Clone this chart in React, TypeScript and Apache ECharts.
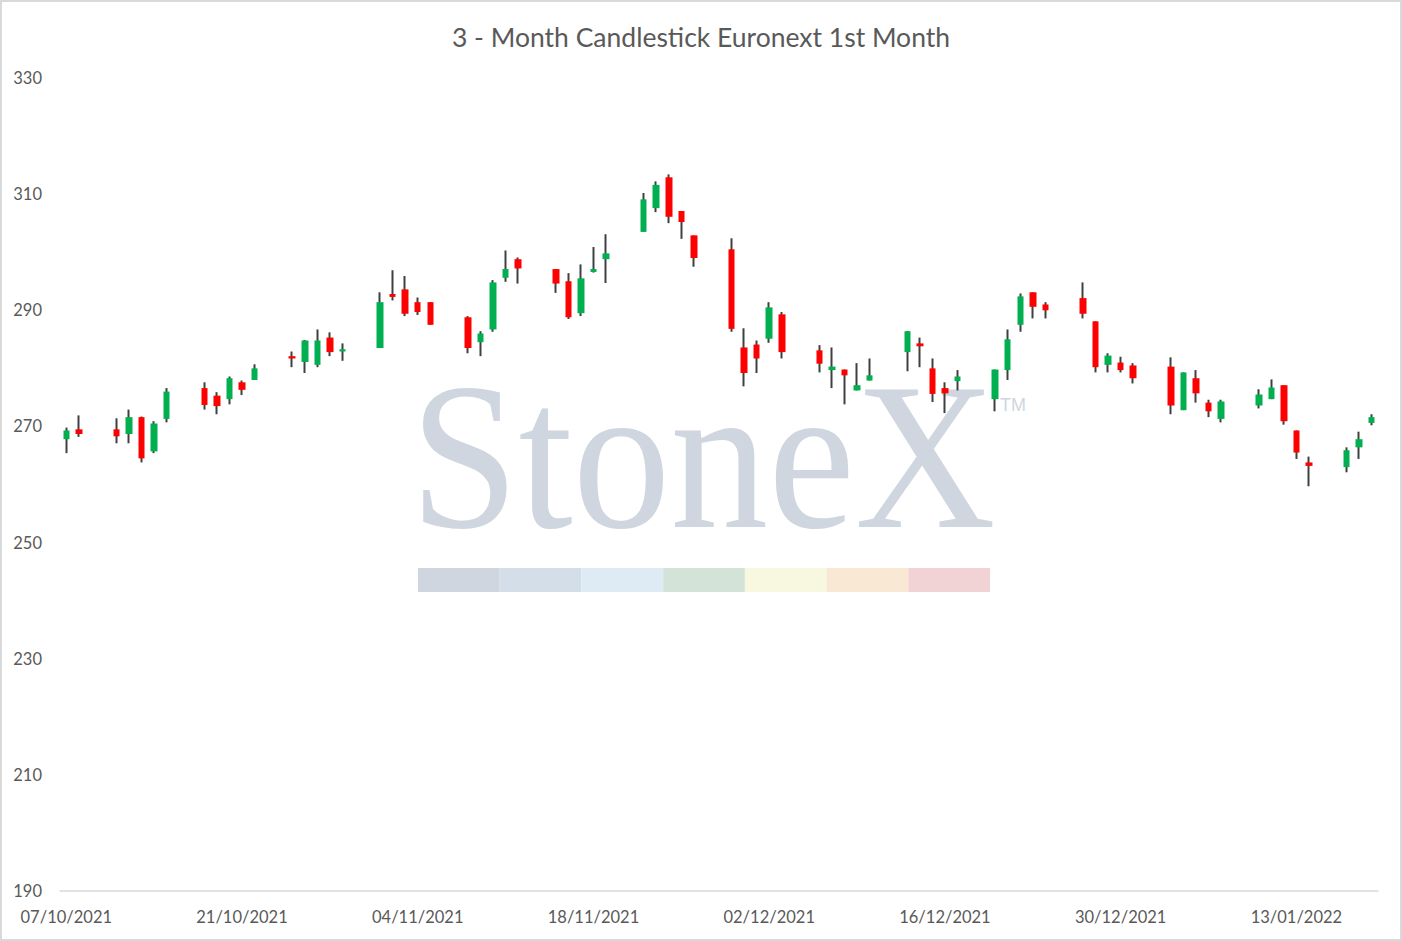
import React, { useEffect, useRef } from "react";
import * as echarts from "echarts";

// ---- data ----
const tradeDates = [
  "07/10/2021", "08/10/2021",
  "11/10/2021", "12/10/2021", "13/10/2021", "14/10/2021", "15/10/2021",
  "18/10/2021", "19/10/2021", "20/10/2021", "21/10/2021", "22/10/2021",
  "25/10/2021", "26/10/2021", "27/10/2021", "28/10/2021", "29/10/2021",
  "01/11/2021", "02/11/2021", "03/11/2021", "04/11/2021", "05/11/2021",
  "08/11/2021", "09/11/2021", "10/11/2021", "11/11/2021", "12/11/2021",
  "15/11/2021", "16/11/2021", "17/11/2021", "18/11/2021", "19/11/2021",
  "22/11/2021", "23/11/2021", "24/11/2021", "25/11/2021", "26/11/2021",
  "29/11/2021", "30/11/2021", "01/12/2021", "02/12/2021", "03/12/2021",
  "06/12/2021", "07/12/2021", "08/12/2021", "09/12/2021", "10/12/2021",
  "13/12/2021", "14/12/2021", "15/12/2021", "16/12/2021", "17/12/2021",
  "20/12/2021", "21/12/2021", "22/12/2021", "23/12/2021", "24/12/2021",
  "27/12/2021", "28/12/2021", "29/12/2021", "30/12/2021", "31/12/2021",
  "03/01/2022", "04/01/2022", "05/01/2022", "06/01/2022", "07/01/2022",
  "10/01/2022", "11/01/2022", "12/01/2022", "13/01/2022", "14/01/2022",
  "17/01/2022", "18/01/2022", "19/01/2022",
];

const opens = [
  267.8, 269.5,
  269.5, 268.7, 271.6, 265.7, 271.3,
  276.6, 275.3, 274.7, 277.6, 278.0,
  282.1, 281.1, 280.6, 285.3, 282.9,
  283.5, 292.8, 293.6, 291.4, 291.4,
  288.8, 284.5, 286.7, 295.6, 298.8,
  297.1, 295.0, 289.5, 296.6, 298.8,
  303.5, 307.6, 312.9, 307.1, 302.9,
  300.5, 283.6, 284.1, 285.1, 289.3,
  283.1, 279.7, 279.8, 276.2, 277.9,
  282.8, 284.3, 280.0, 276.6, 277.8,
  274.7, 279.7, 287.5, 293.1, 291.0,
  292.1, 288.1, 280.6, 281.0, 280.5,
  280.3, 272.8, 278.3, 274.1, 271.3,
  273.6, 274.7, 277.1, 269.3, 263.8,
  263.0, 266.4, 270.6,
];

const closes = [
  269.3, 268.7,
  268.3, 271.6, 264.5, 270.5, 276.0,
  273.7, 273.5, 278.3, 276.3, 280.0,
  281.7, 284.8, 284.8, 282.8, 283.3,
  291.4, 292.3, 289.4, 289.7, 287.5,
  283.5, 286.0, 294.8, 297.1, 297.2,
  294.6, 288.8, 295.5, 297.1, 299.8,
  309.1, 311.6, 306.1, 305.2, 299.0,
  286.8, 279.2, 281.7, 290.5, 282.8,
  280.8, 280.3, 278.8, 277.1, 278.8,
  286.4, 283.8, 275.6, 275.7, 278.6,
  279.8, 285.0, 292.4, 290.6, 290.0,
  289.4, 280.2, 282.2, 279.7, 278.3,
  273.6, 279.3, 275.7, 272.6, 274.3,
  275.5, 276.7, 270.9, 265.5, 263.2,
  265.9, 267.8, 271.6,
];

const lows = [
  265.4, 268.2,
  267.1, 267.1, 263.8, 265.4, 270.7,
  272.9, 272.1, 273.8, 275.4, 278.0,
  280.2, 279.2, 280.2, 282.1, 281.3,
  283.5, 291.7, 289.0, 289.2, 287.5,
  282.6, 282.1, 286.3, 294.9, 294.6,
  293.0, 288.5, 289.0, 296.5, 294.7,
  303.5, 306.9, 305.0, 302.3, 297.5,
  286.3, 276.9, 279.2, 284.4, 281.7,
  279.3, 276.6, 273.8, 276.2, 277.9,
  279.5, 280.2, 274.2, 272.3, 276.2,
  272.6, 278.0, 286.3, 288.6, 288.6,
  288.6, 279.3, 279.3, 279.3, 277.4,
  272.1, 272.8, 274.1, 271.6, 270.7,
  273.1, 274.7, 270.3, 264.4, 259.7,
  262.1, 264.4, 270.2,
];

const highs = [
  269.8, 271.9,
  271.4, 272.9, 271.7, 270.9, 276.6,
  277.6, 275.9, 278.6, 277.9, 280.7,
  282.9, 284.9, 286.7, 286.2, 284.3,
  293.1, 296.9, 295.9, 292.2, 291.4,
  289.0, 286.4, 295.2, 300.3, 299.1,
  297.1, 296.4, 297.9, 300.9, 303.1,
  310.2, 312.2, 313.4, 307.1, 302.9,
  302.4, 286.9, 284.8, 291.4, 289.7,
  284.0, 283.6, 279.8, 280.9, 281.7,
  286.4, 285.3, 281.7, 277.6, 279.7,
  279.8, 286.7, 292.9, 293.1, 291.4,
  294.8, 288.1, 282.6, 282.0, 280.9,
  281.9, 279.3, 279.7, 274.6, 274.6,
  276.4, 278.1, 277.1, 269.3, 264.8,
  266.4, 269.1, 272.1,
];

const firstDay = "07/10/2021";
const lastDay = "19/01/2022";
const yMin = 190;
const yMax = 330;
const yStep = 20;
const labelEveryDays = 14;

const titleText = "3 - Month Candlestick Euronext 1st Month";
const watermarkText = "StoneX";
const watermarkBarColors = [
  "#CFD6DF", "#D3DEE8", "#DEEBF5", "#D3E3D8", "#F8F8E1", "#F9E8D4", "#F1D3D5",
];

// ---- helpers ----
function parseDMY(s: string) {
  const [d, m, y] = s.split("/").map(Number);
  return Date.UTC(y, m - 1, d);
}
function fmtDMY(t: number) {
  const dt = new Date(t);
  const dd = String(dt.getUTCDate()).padStart(2, "0");
  const mm = String(dt.getUTCMonth() + 1).padStart(2, "0");
  return `${dd}/${mm}/${dt.getUTCFullYear()}`;
}
function buildCalendar(a: string, b: string) {
  const out: string[] = [];
  const end = parseDMY(b);
  for (let t = parseDMY(a); t <= end; t += 86400000) out.push(fmtDMY(t));
  return out;
}

const calendarDays = buildCalendar(firstDay, lastDay);

const GREEN = "#00B050";
const RED = "#FF0000";
const WICK = "#404040";
const TEXT = "#595959";
const FONT = "Lato";

export default function App() {
  const ref = useRef<HTMLDivElement>(null);

  useEffect(() => {
    if (!ref.current) return;
    const chart = echarts.init(ref.current, undefined, { renderer: "svg" });

    const ohlc = tradeDates.map((d, i) => [d, opens[i], closes[i], lows[i], highs[i]]);
    const bodies = tradeDates.map((d, i) => [
      d,
      opens[i],
      closes[i],
      Math.min(opens[i], closes[i]),
      Math.max(opens[i], closes[i]),
    ]);

    const wmLeft = 418;
    const wmRight = 990;
    const segW = (wmRight - wmLeft) / watermarkBarColors.length;

    const option: any = {
      animation: false,
      backgroundColor: "#ffffff",
      title: {
        text: titleText,
        left: "center",
        top: 18,
        textStyle: {
          fontFamily: FONT,
          fontSize: 26.5,
          fontWeight: "normal",
          color: TEXT,
        },
      },
      grid: { left: 60, right: 24, top: 78, bottom: 50, outerBoundsMode: "none" },
      xAxis: {
        type: "category",
        data: calendarDays,
        boundaryGap: true,
        axisLine: { show: true, lineStyle: { color: "#D9D9D9", width: 1.5 } },
        axisTick: { show: false },
        splitLine: { show: false },
        axisLabel: {
          interval: labelEveryDays - 1,
          color: TEXT,
          fontFamily: FONT,
          fontSize: 16.5,
          margin: 17,
        },
      },
      yAxis: {
        type: "value",
        min: yMin,
        max: yMax,
        interval: yStep,
        axisLine: { show: false },
        axisTick: { show: false },
        splitLine: { show: false },
        axisLabel: {
          color: TEXT,
          fontFamily: FONT,
          fontSize: 16.5,
          margin: 18,
        },
      },
      graphic: [
        {
          type: "group",
          z: 0,
          silent: true,
          children: [
            {
              type: "text",
              x: wmLeft - 8,
              y: 456,
              scaleX: 0.93,
              z: 0,
              style: {
                text: watermarkText,
                fontFamily: "Liberation Serif",
                fontSize: 210,
                fill: "#CFD6DF",
                align: "left",
                verticalAlign: "middle",
              },
            },
            {
              type: "text",
              x: 1000,
              y: 405,
              z: 0,
              style: {
                text: "TM",
                fontFamily: "Liberation Sans",
                fontSize: 18,
                fill: "#CFD6DF",
                align: "left",
                verticalAlign: "middle",
              },
            },
            ...watermarkBarColors.map((c, i) => ({
              type: "rect",
              z: 0,
              shape: { x: wmLeft + i * segW, y: 568, width: segW, height: 24 },
              style: { fill: c },
            })),
          ],
        },
        {
          type: "rect",
          z: 100,
          silent: true,
          shape: { x: 1, y: 1, width: 1400, height: 939 },
          style: { fill: "none", stroke: "#D9D9D9", lineWidth: 2 },
        },
      ],
      series: [
        {
          name: "wick",
          type: "candlestick",
          data: ohlc,
          encode: { x: 0, y: [1, 2, 3, 4] },
          barWidth: 1,
          itemStyle: {
            color: WICK,
            color0: WICK,
            borderColor: WICK,
            borderColor0: WICK,
            borderWidth: 2,
          },
          emphasis: { disabled: true },
          z: 3,
        },
        {
          name: "Euronext 1st Month",
          type: "candlestick",
          data: bodies,
          encode: { x: 0, y: [1, 2, 3, 4] },
          barWidth: 7,
          itemStyle: {
            color: GREEN,
            color0: RED,
            borderColor: GREEN,
            borderColor0: RED,
            borderWidth: 0,
          },
          emphasis: { disabled: true },
          z: 4,
        },
      ],
    };

    chart.setOption(option);
    return () => chart.dispose();
  }, []);

  return (
    <div
      ref={ref}
      style={{ position: "fixed", left: 0, top: 0, width: 1402, height: 941, background: "#fff" }}
    />
  );
}
